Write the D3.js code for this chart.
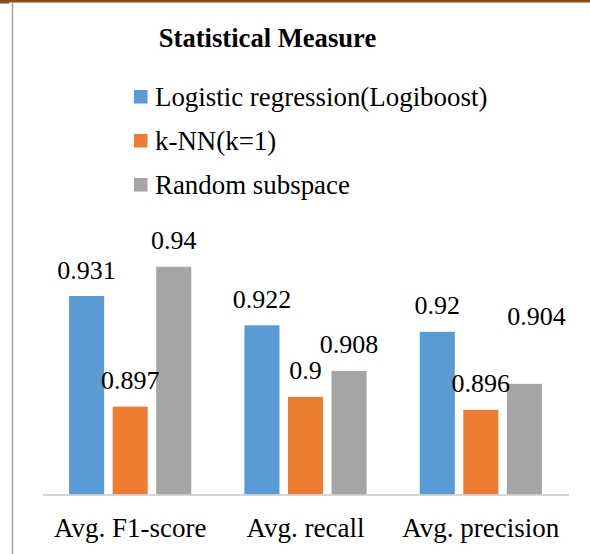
<!DOCTYPE html>
<html>
<head>
<meta charset="utf-8">
<script src="https://cdn.jsdelivr.net/npm/d3@7/dist/d3.min.js"></script>
<style>
  html, body { margin: 0; padding: 0; background: #fff; }
  svg { display: block; }
  text { font-family: "Liberation Serif", "Times New Roman", serif; fill: #000; }
</style>
</head>
<body>
<svg id="chart" width="590" height="554"></svg>
<script>
// Chart data
const categories = ["Avg. F1-score", "Avg. recall", "Avg. precision"];
const seriesNames = ["Logistic regression(Logiboost)", "k-NN(k=1)", "Random subspace"];
const logisticValues = [0.931, 0.922, 0.92];
const knnValues = [0.897, 0.9, 0.896];
const randomSubspaceValues = [0.94, 0.908, 0.904];
const seriesColors = ["#5b9bd5", "#ed7d31", "#a5a5a5"];
const yDomain = [0.87, 0.95];

const seriesValues = [logisticValues, knnValues, randomSubspaceValues];
const rows = [];
categories.forEach((c, ci) => {
  seriesNames.forEach((s, si) => {
    rows.push({ category: c, series: s, value: seriesValues[si][ci], si });
  });
});

const svg = d3.select("#chart");

// frame: brown rule along the top, grey rule down the left
svg.append("rect").attr("x", 0).attr("y", 0).attr("width", 590).attr("height", 2.5).attr("fill", "#8a4a1c");
svg.append("rect").attr("x", 0).attr("y", 0).attr("width", 9).attr("height", 3.5).attr("fill", "#8a4a1c");
svg.append("line").attr("x1", 12.5).attr("x2", 12.5).attr("y1", 2).attr("y2", 554)
  .attr("stroke", "#a6a6a6").attr("stroke-width", 1.6);

// title
svg.append("text").attr("x", 267.5).attr("y", 46.5).attr("text-anchor", "middle")
  .style("font-size", "26.6px").style("font-weight", "bold").text("Statistical Measure");

// legend
const legend = svg.append("g").attr("transform", "translate(134,90)");
seriesNames.forEach((name, i) => {
  const g = legend.append("g").attr("transform", `translate(0,${i * 44})`);
  g.append("rect").attr("width", 13.5).attr("height", 13.5).attr("fill", seriesColors[i]);
  g.append("text").attr("x", 21).attr("y", 15.5).style("font-size", "26.9px").text(name);
});

// scales
const x0 = d3.scaleBand().domain(categories).range([42.5, 568.5]);
const x1 = d3.scaleBand().domain(seriesNames).range([0, x0.bandwidth()])
  .paddingInner(0.195).paddingOuter(0.61);
const y = d3.scaleLinear().domain(yDomain).range([494.5, 234.2]);
const color = d3.scaleOrdinal().domain(seriesNames).range(seriesColors);

// bars
svg.append("g").selectAll("rect").data(rows).join("rect")
  .attr("x", d => x0(d.category) + x1(d.series))
  .attr("width", x1.bandwidth())
  .attr("y", d => y(d.value))
  .attr("height", d => y(yDomain[0]) - y(d.value))
  .attr("fill", d => color(d.series));

// value labels (one label nudged clear of its neighbour)
const labelNudge = { "Avg. precision|Random subspace": [12, -41] };
const nudge = d => labelNudge[d.category + "|" + d.series] || [0, 0];
svg.append("g").selectAll("text").data(rows).join("text")
  .attr("text-anchor", "middle")
  .style("font-size", "26px")
  .attr("x", d => x0(d.category) + x1(d.series) + x1.bandwidth() / 2 + nudge(d)[0])
  .attr("y", d => y(d.value) - 17.5 + nudge(d)[1])
  .text(d => String(d.value));

// category axis
const xAxis = svg.append("g").attr("transform", `translate(0,${y(yDomain[0])})`)
  .call(d3.axisBottom(x0).tickSize(0).tickPadding(0));
xAxis.select(".domain").attr("stroke", "#c8c8c8").attr("stroke-width", 1.5);
xAxis.selectAll(".tick text")
  .attr("dy", null).attr("y", 42)
  .style("font-size", "27px").style("font-family", "'Liberation Serif', 'Times New Roman', serif")
  .attr("fill", "#000");
</script>
</body>
</html>
